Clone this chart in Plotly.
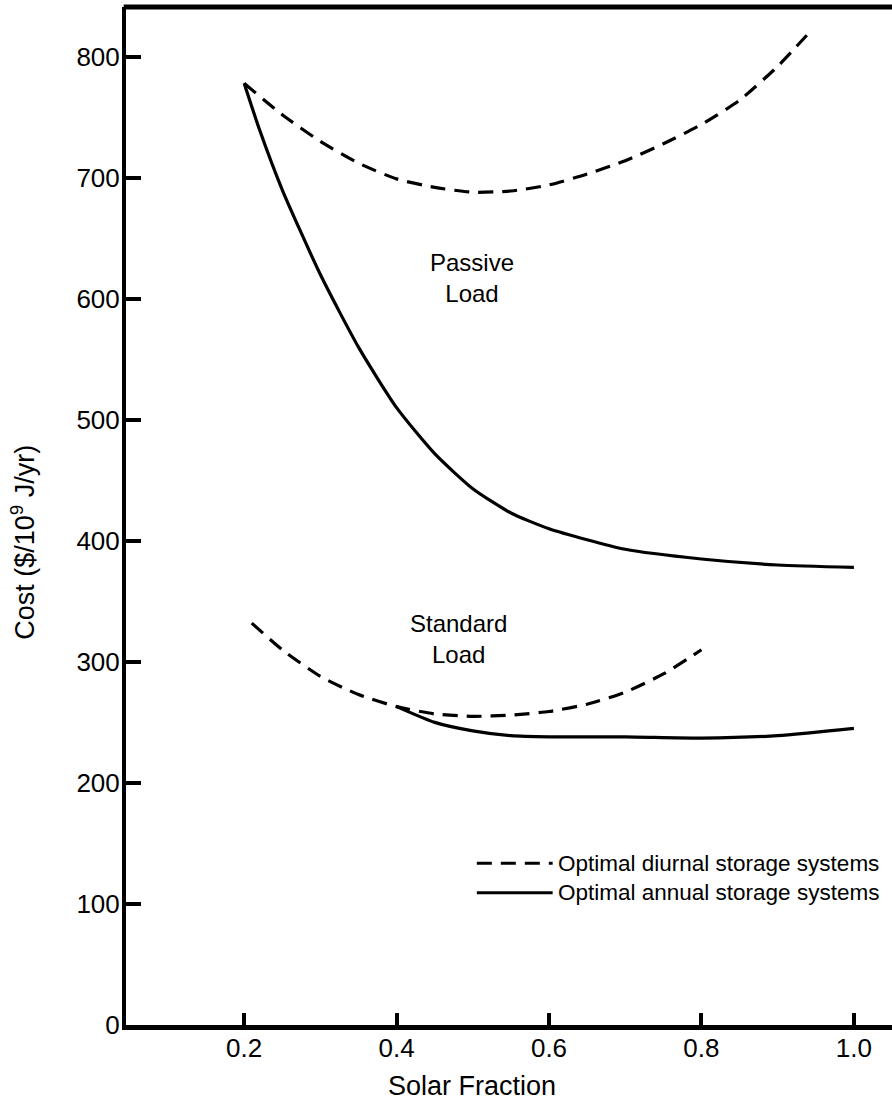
import plotly.graph_objects as go

# ---- data ----
passive_diurnal_x = [0.2, 0.25, 0.3, 0.35, 0.4, 0.45, 0.5, 0.55, 0.6, 0.65, 0.7, 0.75, 0.8, 0.85, 0.9, 0.946]
passive_diurnal_y = [778, 752, 730, 712, 699, 692, 688, 689, 694, 703, 714, 728, 744, 764, 792, 823]

passive_annual_x = [0.2, 0.22, 0.25, 0.3, 0.35, 0.4, 0.45, 0.5, 0.55, 0.6, 0.7, 0.8, 0.9, 1.0]
passive_annual_y = [778, 740, 690, 620, 560, 510, 472, 443, 423, 410, 393, 385, 380, 378]

standard_diurnal_x = [0.21, 0.25, 0.3, 0.35, 0.4, 0.45, 0.5, 0.55, 0.6, 0.65, 0.7, 0.75, 0.8]
standard_diurnal_y = [332, 310, 288, 273, 263, 257, 255, 256, 259, 265, 275, 290, 310]

standard_annual_x = [0.4, 0.45, 0.5, 0.55, 0.6, 0.7, 0.8, 0.9, 1.0]
standard_annual_y = [263, 250, 243, 239, 238, 238, 237, 239, 245]

x_ticks = [0.2, 0.4, 0.6, 0.8, 1.0]
x_tick_labels = ["0.2", "0.4", "0.6", "0.8", "1.0"]
y_ticks = [0, 100, 200, 300, 400, 500, 600, 700, 800]
y_tick_labels = ["0", "100", "200", "300", "400", "500", "600", "700", "800"]

FONT = "Liberation Sans, Arial, Helvetica, sans-serif"
DASH = "15px,9px"

fig = go.Figure()
for xs, ys, dash in [
    (passive_diurnal_x, passive_diurnal_y, DASH),
    (passive_annual_x, passive_annual_y, "solid"),
    (standard_diurnal_x, standard_diurnal_y, DASH),
    (standard_annual_x, standard_annual_y, "solid"),
]:
    fig.add_trace(go.Scatter(x=xs, y=ys, mode="lines", line=dict(color="black", width=3.2, dash=dash,
                                                                   shape="spline", smoothing=0.6),
                             showlegend=False, hoverinfo="skip"))

fig.update_layout(
    width=892, height=1101,
    margin=dict(l=126, r=0, t=7, b=76),
    paper_bgcolor="white", plot_bgcolor="white",
    font=dict(family=FONT, color="black", size=24),
    showlegend=False,
)
fig.update_xaxes(
    range=[0.045, 1.05], tickvals=x_ticks, ticktext=x_tick_labels,
    showgrid=False, zeroline=False, showline=True, linecolor="black", linewidth=5,
    ticks="inside", ticklen=12, tickwidth=4, tickcolor="black",
    tickfont=dict(size=26, family=FONT), ticklabelstandoff=-4,
)
fig.update_yaxes(
    range=[0, 841], tickvals=y_ticks, ticktext=y_tick_labels,
    showgrid=False, zeroline=False, showline=True, linecolor="black", linewidth=4,
    ticks="inside", ticklen=15, tickwidth=4, tickcolor="black",
    tickfont=dict(size=26, family=FONT), ticklabelstandoff=-3,
)

# top border (right border is outside the visible page)
fig.add_shape(type="line", xref="paper", yref="paper", x0=-0.003, x1=1.0, y0=1, y1=1,
              line=dict(color="black", width=5))

# axis titles
fig.add_annotation(text="Cost ($/10<sup>9</sup> J/yr)", xref="paper", yref="paper",
                   x=-0.134, y=0.474, xanchor="center", yanchor="middle", textangle=-90,
                   showarrow=False, font=dict(size=27, family=FONT))
fig.add_annotation(text="Solar Fraction", xref="paper", yref="paper",
                   x=0.4517, y=-0.06, xanchor="center", yanchor="middle",
                   showarrow=False, font=dict(size=27, family=FONT))

# curve labels
fig.add_annotation(text="Passive<br>Load", x=0.499, y=617, showarrow=False,
                   font=dict(size=24, family=FONT), align="center")
fig.add_annotation(text="Standard<br>Load", x=0.481, y=319, showarrow=False,
                   font=dict(size=24, family=FONT), align="center")

# legend
leg_x0, leg_x1, leg_text_x = 0.458, 0.557, 0.562
for yy, dash, label in [(0.159, DASH, "Optimal diurnal storage systems"),
                        (0.130, "solid", "Optimal annual storage systems")]:
    fig.add_shape(type="line", xref="paper", yref="paper", x0=leg_x0, x1=leg_x1, y0=yy, y1=yy,
                  line=dict(color="black", width=3, dash=dash))
    fig.add_annotation(text=label, xref="paper", yref="paper", x=leg_text_x, y=yy,
                       xanchor="left", yanchor="middle", showarrow=False,
                       font=dict(size=22.5, family=FONT))

fig.write_html("out.html")
